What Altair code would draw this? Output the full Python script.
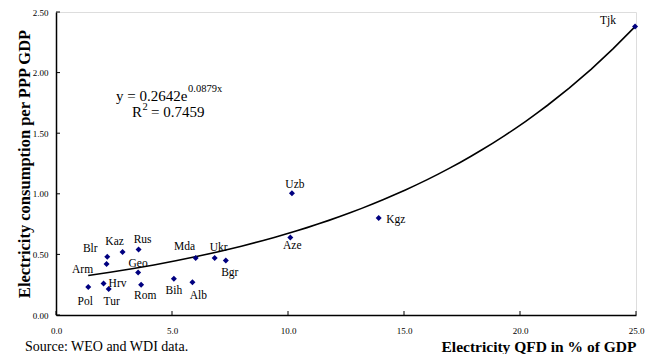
import altair as alt
import pandas as pd

# ---- data ----
countries = ["Pol", "Hrv", "Tur", "Blr", "Arm", "Kaz", "Rus", "Geo", "Rom",
             "Bih", "Alb", "Mda", "Ukr", "Bgr", "Aze", "Uzb", "Kgz", "Tjk"]
qfd = [1.39, 2.05, 2.27, 2.21, 2.18, 2.87, 3.56, 3.54, 3.67,
       5.08, 5.88, 6.02, 6.84, 7.32, 10.10, 10.17, 13.91, 24.96]
consumption = [0.23, 0.26, 0.215, 0.48, 0.42, 0.52, 0.54, 0.35, 0.25,
               0.30, 0.27, 0.47, 0.47, 0.45, 0.64, 1.005, 0.80, 2.38]
x_ticks = [0, 5, 10, 15, 20, 25]
y_ticks = [0, 0.5, 1.0, 1.5, 2.0, 2.5]

eq_main = "y = 0.2642e"
eq_exp = "0.0879x"
r2_main = "R"
r2_sup = "2"
r2_val = "= 0.7459"
source_text = "Source: WEO and WDI data."
x_title = "Electricity QFD in % of GDP"
y_title = "Electricity consumption per PPP GDP"

# label placement (pixel offsets of label centre from its point)
label_offsets = {
    "Pol": (-3, 15), "Hrv": (14, 1), "Tur": (3, 13), "Blr": (-17, -8),
    "Arm": (-24, 6), "Kaz": (-8, -10), "Rus": (4, -10), "Geo": (0, -9),
    "Rom": (4, 11), "Bih": (0, 12), "Alb": (6, 14), "Mda": (-11, -11),
    "Ukr": (4, -10), "Bgr": (4, 13), "Aze": (2, 9), "Uzb": (3, -8),
    "Kgz": (17, 2), "Tjk": (-27, -6),
}

W, H = 580, 303
FONT = "Liberation Serif"
NAVY = "#000080"

df = pd.DataFrame({"country": countries, "qfd": qfd, "cons": consumption})

xs = alt.Scale(domain=[0, 25], nice=False, zero=False)
ys = alt.Scale(domain=[0, 2.5], nice=False, zero=False)

x_axis = alt.Axis(values=x_ticks, format=".1f", ticks=False, grid=False,
                  domainColor="black", domainWidth=1.5, labelFont=FONT,
                  labelFontSize=9, labelColor="black", labelPadding=11,
                  labelFlush=False, title=x_title, titleFont=FONT,
                  titleFontSize=15.5, titleFontWeight="bold", titleColor="black",
                  titleAlign="right", titleX=W, titleY=36,
                  titleBaseline="alphabetic")
y_axis = alt.Axis(values=y_ticks, format=".2f", ticks=False, grid=False,
                  domainColor="black", domainWidth=1.5, labelFont=FONT,
                  labelFontSize=9, labelColor="black", labelPadding=8,
                  labelFlush=False, title=y_title, titleFont=FONT,
                  titleFontSize=16.5, titleFontWeight="bold", titleColor="black",
                  titleAngle=270, titleAlign="center", titleX=-27, titleY=H / 2,
                  titleBaseline="alphabetic")

base = alt.Chart(df)

trend = base.transform_regression(
    "qfd", "cons", method="exp", extent=[min(qfd), max(qfd)]
).mark_line(color="black", strokeWidth=1.6).encode(
    x=alt.X("qfd:Q", scale=xs, axis=x_axis),
    y=alt.Y("cons:Q", scale=ys, axis=y_axis),
)

points = base.mark_point(shape="diamond", filled=True, size=36, color=NAVY,
                         opacity=1).encode(
    x=alt.X("qfd:Q", scale=xs),
    y=alt.Y("cons:Q", scale=ys),
)

label_layers = []
for c in countries:
    ox, oy = label_offsets[c]
    label_layers.append(
        base.transform_filter(alt.datum.country == c).mark_text(
            font=FONT, fontSize=11.5, color="black", baseline="middle",
            align="center", dx=ox, dy=oy).encode(
            x=alt.X("qfd:Q", scale=xs),
            y=alt.Y("cons:Q", scale=ys),
            text="country:N",
        )
    )

# inward tick marks
ytick_df = pd.DataFrame({"v": y_ticks})
xtick_df = pd.DataFrame({"v": x_ticks})
yticks = alt.Chart(ytick_df).mark_rule(color="black", strokeWidth=1).encode(
    y=alt.Y("v:Q", scale=ys), x=alt.value(0), x2=alt.value(4))
xticks = alt.Chart(xtick_df).mark_rule(color="black", strokeWidth=1).encode(
    x=alt.X("v:Q", scale=xs), y=alt.value(H), y2=alt.value(H - 4))


def note(txt, x, y, size):
    return alt.Chart(pd.DataFrame({"t": [txt]})).mark_text(
        font=FONT, fontSize=size, color="black", align="left",
        baseline="alphabetic").encode(
        x=alt.value(x), y=alt.value(y), text="t:N")


annotations = [
    note(eq_main, 60, 89, 15),
    note(eq_exp, 132, 80, 10.5),
    note(r2_main, 76, 105, 15),
    note(r2_sup, 86.5, 98, 10.5),
    note(r2_val, 95, 105, 15),
    note(source_text, -31, 339, 14),
]

chart = alt.layer(trend, yticks, xticks, points, *label_layers,
                  *annotations).properties(
    width=W, height=H,
    autosize=alt.AutoSizeParams(type="none"),
    padding={"left": 48, "top": 4, "right": 10, "bottom": 39},
).configure_view(stroke=None).configure(background="white")

chart.save("out.html", embed_options={"renderer": "svg", "actions": False})
